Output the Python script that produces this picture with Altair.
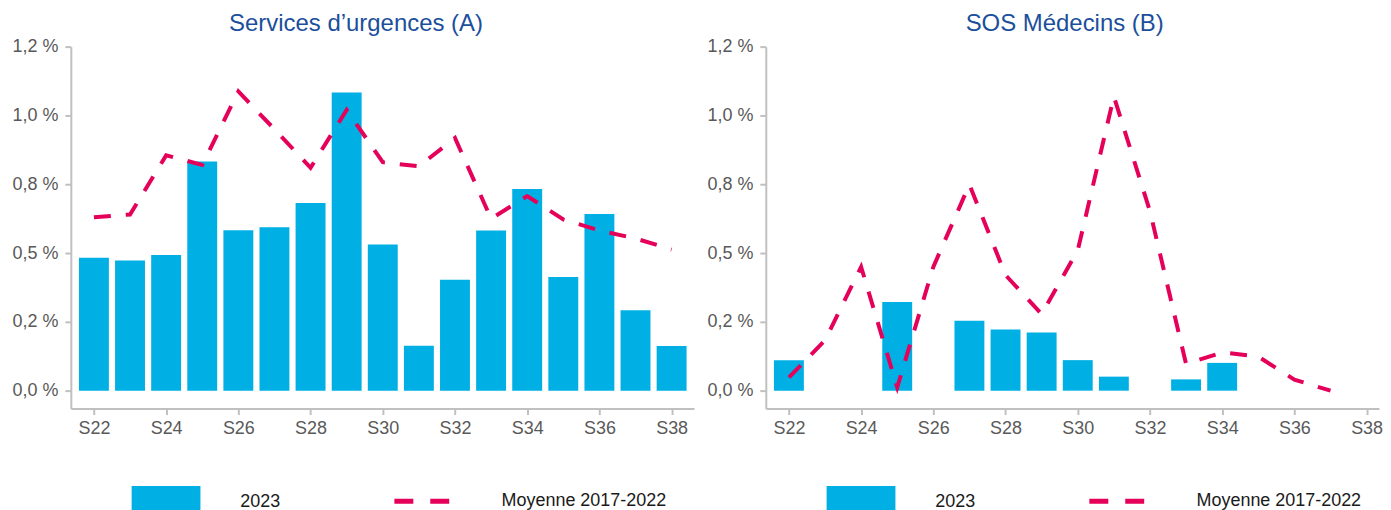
import altair as alt
import pandas as pd

# ---------------- data ----------------
weeks = list(range(22, 39))
urg_2023 = [0.483, 0.473, 0.493, 0.833, 0.583, 0.594, 0.682, 1.083, 0.531,
            0.163, 0.403, 0.582, 0.733, 0.413, 0.642, 0.292, 0.162]
urg_moy = [0.630, 0.640, 0.855, 0.820, 1.087, 0.950, 0.810, 1.020, 0.830,
           0.815, 0.918, 0.625, 0.707, 0.622, 0.582, 0.553, 0.513]
sos_2023 = [0.111, None, None, 0.322, None, 0.254, 0.222, 0.211, 0.111,
            0.051, None, 0.041, 0.101, None, None, None, None]
sos_moy = [0.048, 0.183, 0.450, 0.012, 0.450, 0.749, 0.420, 0.278, 0.510,
           1.069, 0.652, 0.097, 0.139, 0.124, 0.040, 0.0, None]

week_ticks = [22, 24, 26, 28, 30, 32, 34, 36, 38]
y_ticks = [0, 0.25, 0.5, 0.75, 1.0, 1.25]
y_labels = ["0,0 %", "0,2 %", "0,5 %", "0,8 %", "1,0 %", "1,2 %"]
titles = ["Services d’urgences (A)", "SOS Médecins (B)"]
series = ["2023", "Moyenne 2017-2022"]

# ---------------- style ----------------
BAR = "#00b0e4"
LINE = "#e5005a"
TITLE = "#1b4f9c"
FONT = "Liberation Sans"
PX_PER_WEEK = 625 / (38.62 - 21.36)

label_expr = "[" + ",".join("'%s'" % l for l in y_labels) + "][round(datum.value*4)]"


def panel(title, bars, moy, title_dx, width):
    df = pd.DataFrame({"week": weeks, "v2023": bars, "moy": moy,
                       "s_bar": series[0], "s_line": series[1]})
    xscale = alt.Scale(domain=[21.36, 21.36 + width / PX_PER_WEEK], nice=False,
                       zero=False, padding=0)
    x = alt.X("week:Q", scale=xscale,
              axis=alt.Axis(values=week_ticks, labelExpr="'S' + datum.value",
                            title=None, labelPadding=5))
    yscale = alt.Scale(domain=[-0.065, 1.25], nice=False, zero=False, padding=0)
    base = alt.Chart(df)
    b = base.transform_filter("isValid(datum.v2023)").mark_bar(size=30).encode(
        x=x,
        y=alt.Y("v2023:Q", scale=yscale,
                axis=alt.Axis(values=y_ticks, labelExpr=label_expr, title=None,
                              labelPadding=7)),
        y2=alt.datum(0),
        color=alt.Color("s_bar:N", scale=alt.Scale(domain=[series[0]], range=[BAR]),
                        legend=alt.Legend(title=None, orient="none", legendX=61, legendY=422,
                                          symbolType="M-1,-0.46H1V0.46H-1Z", symbolSize=4761,
                                          symbolStrokeWidth=0, labelOffset=40, padding=0,
                                          labelLimit=400)),
    )
    l = base.transform_filter("isValid(datum.moy)").mark_line(
        strokeDash=[17, 15], strokeWidth=4).encode(
        x=x,
        y=alt.Y("moy:Q", scale=yscale),
        color=alt.Color("s_line:N", scale=alt.Scale(domain=[series[1]], range=[LINE]),
                        legend=alt.Legend(title=None, orient="none", legendX=322, legendY=426,
                                          symbolType="stroke", symbolSize=3025,
                                          symbolStrokeWidth=5, symbolDash=[19, 17],
                                          symbolStrokeColor=LINE, labelOffset=50, padding=0,
                                          labelLimit=400)),
    )
    return alt.layer(b, l).resolve_scale(color="independent").properties(
        width=width, height=363,
        title=alt.TitleParams(title, anchor="middle", frame="bounds", offset=2, dx=title_dx),
    )


chart = alt.hconcat(
    panel(titles[0], urg_2023, urg_moy, 3, 625),
    panel(titles[1], sos_2023, sos_moy, 20, 615),
    spacing=12,
).resolve_scale(color="independent").resolve_legend(color="independent").properties(
    padding={"left": 3, "top": 3, "right": 0, "bottom": 0}
).configure_view(
    stroke=None
).configure_axis(
    domainColor="#c0c0c0", domainWidth=2, tickColor="#c0c0c0", tickWidth=2, tickSize=6,
    labelColor="#595959", labelFont=FONT, labelFontSize=18, grid=False,
).configure_legend(
    labelFont=FONT, labelFontSize=18, labelColor="#1a1a1a",
).configure_title(
    font=FONT, fontSize=24, color=TITLE, fontWeight="normal",
)

chart.save("out.html", embed_options={"renderer": "svg", "actions": False})
